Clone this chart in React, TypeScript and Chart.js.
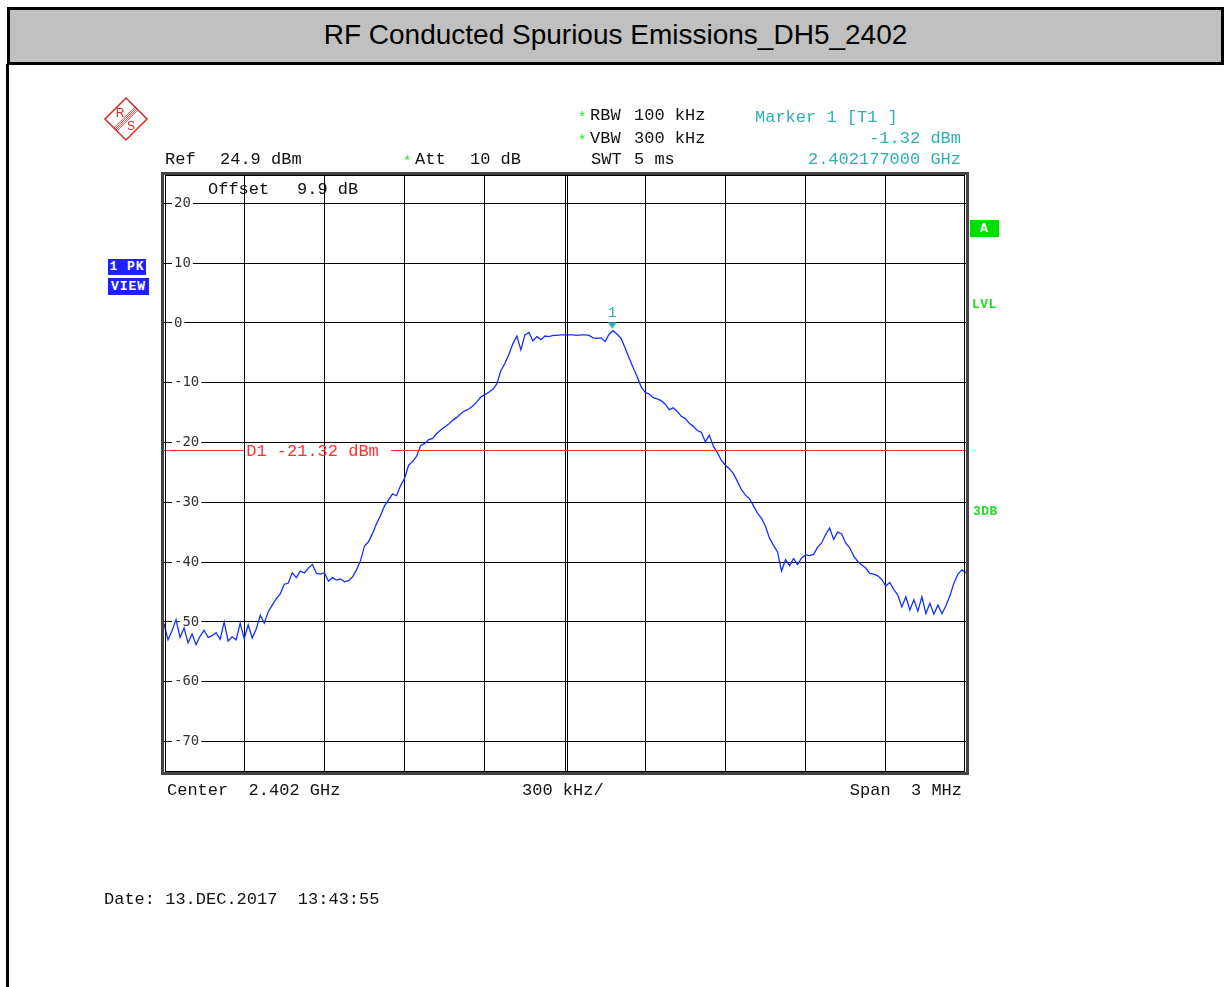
import React, { useEffect, useRef } from 'react';
import { Chart, registerables } from 'chart.js';

Chart.register(...registerables);

// ---- data ----
const TITLE = 'RF Conducted Spurious Emissions_DH5_2402';
const F_START_MHZ = 2400.5;
const F_STOP_MHZ = 2403.5;
const F_STEP_MHZ = 0.015;
const REF_LEVEL_DBM = 24.9;
const BOTTOM_LEVEL_DBM = -75.1;
const Y_TICKS = [20, 10, 0, -10, -20, -30, -40, -50, -60, -70];
const X_GRID_MHZ = [2400.5, 2400.8, 2401.1, 2401.4, 2401.7, 2402.0, 2402.3, 2402.6, 2402.9, 2403.2, 2403.5];
const CENTER_MHZ = 2402.0;
const D1_DBM = -21.32;
const D1_LABEL = 'D1 -21.32 dBm';
const MARKER_FREQ_MHZ = 2402.177;
const MARKER_DBM = -1.32;
const MARKER_LABEL = '1';

// trace levels (dBm), one every F_STEP_MHZ from F_START_MHZ
const TRACE_DBM = [
  -50.3, -53.0, -51.5, -49.6, -52.6, -51.0, -53.5, -52.0, -53.8, -52.4,
  -51.4, -52.6, -52.3, -51.8, -52.9, -50.0, -53.2, -52.5, -53.0, -50.2,
  -52.8, -50.5, -52.7, -51.2, -48.9, -50.2, -48.3, -47.2, -46.1, -45.3,
  -43.7, -43.5, -41.8, -42.6, -41.5, -41.8, -41.0, -40.4, -41.9, -42.0,
  -41.8, -43.2, -42.6, -43.0, -42.8, -43.3, -43.1, -42.5, -41.3, -39.8,
  -37.3, -36.6, -35.2, -33.6, -32.2, -30.6, -29.6, -28.6, -28.9, -27.2,
  -26.0, -23.8, -23.2, -22.3, -20.5, -20.2, -19.5, -19.3, -18.5, -17.9,
  -17.4, -16.9, -16.3, -15.8, -15.2, -14.7, -14.4, -13.9, -13.2, -12.4,
  -12.0, -11.6, -11.1, -10.2, -8.0, -6.8, -5.3, -3.5, -2.2, -4.5,
  -2.0, -1.6, -3.0, -2.3, -2.8, -2.2, -2.3, -2.1, -2.1, -2.0,
  -2.0, -2.0, -2.0, -2.1, -2.0, -2.0, -2.1, -2.5, -2.6, -2.5,
  -3.1, -1.9, -1.3, -1.9, -2.6, -4.2, -5.9, -7.5, -9.0, -10.7,
  -11.6, -11.9, -12.5, -12.7, -13.0, -13.6, -14.5, -14.2, -14.8, -15.6,
  -16.0, -16.8, -17.3, -18.0, -18.3, -19.9, -18.8, -20.6, -21.7, -23.0,
  -23.8, -24.4, -25.2, -26.5, -27.9, -28.8, -29.4, -30.6, -31.8, -32.7,
  -34.0, -36.0, -37.2, -38.3, -41.5, -39.6, -40.6, -39.4, -40.4, -39.3,
  -38.8, -38.9, -38.7, -37.5, -36.8, -35.4, -34.3, -36.2, -35.0, -35.3,
  -36.8, -37.6, -39.0, -39.9, -40.5, -41.0, -41.9, -42.0, -42.3, -42.9,
  -44.0, -43.4, -44.6, -45.5, -47.5, -45.8, -48.0, -46.3, -48.2, -45.8,
  -48.6, -46.9, -48.7, -47.2, -48.6, -47.3, -45.6, -43.5, -42.0, -41.3,
  -41.8,
];

// ---- styles ----
const W = 1224;
const H = 987;
const MONO = '"Liberation Mono", "Courier New", monospace';
const TRACE_COLOR = '#1430ff';
const TEAL = '#2fb0b0';
const RED = '#ff3030';
const GREEN = '#22dd22';
const BLUE_BOX = '#1f1fff';

const overlayPlugin = {
  id: 'overlay',
  afterDatasetsDraw(chart: any) {
    const { ctx, chartArea: a, scales } = chart;
    const x = scales.x;
    const y = scales.y;
    ctx.save();
    // second line of the doubled centre grid line
    const cx = Math.round(x.getPixelForValue(CENTER_MHZ)) + 2.5;
    ctx.strokeStyle = '#000';
    ctx.lineWidth = 1;
    ctx.beginPath();
    ctx.moveTo(cx, a.top);
    ctx.lineTo(cx, a.bottom);
    ctx.stroke();

    // D1 display line with label
    const yd = Math.round(y.getPixelForValue(D1_DBM)) + 0.5;
    ctx.font = '17px ' + MONO;
    const tx = x.getPixelForValue(X_GRID_MHZ[1]) + 2;
    const tw = ctx.measureText(D1_LABEL).width;
    ctx.strokeStyle = RED;
    ctx.beginPath();
    ctx.moveTo(a.left, yd);
    ctx.lineTo(tx - 2, yd);
    ctx.moveTo(tx + tw + 12, yd);
    ctx.lineTo(a.right, yd);
    ctx.stroke();
    ctx.fillStyle = RED;
    ctx.textBaseline = 'middle';
    ctx.textAlign = 'left';
    ctx.fillText(D1_LABEL, tx, yd + 1);

    // marker
    const mx = x.getPixelForValue(MARKER_FREQ_MHZ);
    const my = y.getPixelForValue(MARKER_DBM);
    ctx.fillStyle = TEAL;
    ctx.beginPath();
    ctx.moveTo(mx - 4.5, my - 8.5);
    ctx.lineTo(mx + 4.5, my - 8.5);
    ctx.lineTo(mx, my - 2);
    ctx.closePath();
    ctx.fill();
    ctx.font = '15px ' + MONO;
    ctx.textAlign = 'center';
    ctx.fillText(MARKER_LABEL, mx, my - 18);
    ctx.restore();
  },
  afterDraw(chart: any) {
    const { ctx, chartArea: a } = chart;
    ctx.save();
    ctx.strokeStyle = '#444';
    ctx.lineWidth = 3;
    ctx.strokeRect(a.left - 1.5, a.top - 0.5, a.right - a.left + 3, a.bottom - a.top + 2);
    ctx.strokeStyle = '#000';
    ctx.lineWidth = 1;
    ctx.strokeRect(a.left + 1.5, a.top + 1.5, a.right - a.left - 3, a.bottom - a.top - 2);
    ctx.restore();
  },
};

function T(props: any) {
  const { x, y, text, color = '#111', align = 'left', size = 17, bold = false, spacing = 0, font = MONO } = props;
  const style: any = {
    position: 'absolute',
    top: y - size * 0.44,
    fontFamily: font,
    fontSize: size,
    lineHeight: size + 'px',
    color,
    whiteSpace: 'pre',
    fontWeight: bold ? 'bold' : 'normal',
    letterSpacing: spacing,
  };
  if (align === 'right') style.right = W - x;
  else style.left = x;
  return <div style={style}>{text}</div>;
}

function Box(props: any) {
  const { x, y, w, h, bg, text, size = 13 } = props;
  return (
    <div
      style={{
        position: 'absolute',
        left: x,
        top: y,
        width: w,
        height: h,
        background: bg,
        color: '#fff',
        fontFamily: MONO,
        fontWeight: 'bold',
        fontSize: size,
        lineHeight: h + 'px',
        textAlign: 'center',
        whiteSpace: 'pre',
        letterSpacing: 1,
      }}
    >
      {text}
    </div>
  );
}

function Logo() {
  const c = { x: 126, y: 119 };
  const r = 21;
  const p1 = { x: 136.5, y: 108.5 };
  const p2 = { x: 115.5, y: 129.5 };
  const offs = [-2.2, -0.75, 0.75, 2.2];
  const k = Math.SQRT1_2;
  return (
    <svg width={60} height={60} viewBox="96 89 60 60" style={{ position: 'absolute', left: 96, top: 89 }}>
      <polygon
        points={`${c.x},${c.y - r} ${c.x + r},${c.y} ${c.x},${c.y + r} ${c.x - r},${c.y}`}
        fill="none"
        stroke="#d42a2a"
        strokeWidth={1.5}
      />
      {offs.map((o, i) => (
        <line key={i} x1={p1.x + o * k} y1={p1.y + o * k} x2={p2.x + o * k} y2={p2.y + o * k} stroke="#d42a2a" strokeWidth={0.8} />
      ))}
      <text x={120} y={116.5} fill="#d42a2a" fontFamily="Liberation Sans, Arial, sans-serif" fontSize={12} textAnchor="middle">R</text>
      <text x={131} y={130} fill="#d42a2a" fontFamily="Liberation Sans, Arial, sans-serif" fontSize={12} textAnchor="middle">S</text>
    </svg>
  );
}

export default function App() {
  const canvasRef = useRef<HTMLCanvasElement | null>(null);

  useEffect(() => {
    const canvas = canvasRef.current;
    if (!canvas) return;
    const points = TRACE_DBM.map((v, i) => ({ x: F_START_MHZ + i * F_STEP_MHZ, y: v }));
    const chart = new Chart(canvas, {
      type: 'line',
      data: {
        datasets: [
          {
            data: points,
            borderColor: TRACE_COLOR,
            borderWidth: 1.3,
            pointRadius: 0,
            tension: 0,
            fill: false,
          },
        ],
      },
      options: {
        animation: false,
        responsive: false,
        events: [],
        layout: { padding: { left: 164, top: 174, right: W - 966, bottom: H - 772 } },
        plugins: { legend: { display: false }, tooltip: { enabled: false }, title: { display: false } },
        scales: {
          x: {
            type: 'linear',
            min: F_START_MHZ,
            max: F_STOP_MHZ,
            afterBuildTicks: (s: any) => {
              s.ticks = X_GRID_MHZ.slice(1, -1).map((v) => ({ value: v }));
            },
            afterFit: (s: any) => {
              s.height = 0;
            },
            ticks: { display: false },
            grid: { color: '#000', lineWidth: 1, drawTicks: false },
            border: { display: false },
          },
          y: {
            type: 'linear',
            min: BOTTOM_LEVEL_DBM,
            max: REF_LEVEL_DBM,
            afterBuildTicks: (s: any) => {
              s.ticks = Y_TICKS.map((v) => ({ value: v }));
            },
            afterFit: (s: any) => {
              s.width = 0;
            },
            ticks: {
              mirror: true,
              padding: 10,
              color: '#333',
              font: { family: '"DejaVu Sans Mono", monospace', size: 14 },
              callback: (v: any) => String(v),
              showLabelBackdrop: true,
              backdropColor: '#ffffff',
              backdropPadding: { left: 2, right: 2, top: 0, bottom: 0 },
            },
            grid: { color: '#000', lineWidth: 1, drawTicks: false },
            border: { display: false },
          },
        },
      },
      plugins: [overlayPlugin],
    } as any);
    return () => chart.destroy();
  }, []);

  return (
    <div style={{ position: 'absolute', left: 0, top: 0, width: W, height: H, background: '#fff', overflow: 'hidden' }}>
      <div
        style={{
          position: 'absolute',
          left: 7,
          top: 7,
          width: W - 7,
          height: 58,
          boxSizing: 'border-box',
          border: '3px solid #000',
          background: '#c0c0c0',
          textAlign: 'center',
          fontFamily: '"Liberation Sans", Arial, sans-serif',
          fontSize: 28,
          lineHeight: '50px',
          color: '#000',
        }}
      >
        {TITLE}
      </div>
      <div style={{ position: 'absolute', left: 6, top: 64, width: 3, height: H - 64, background: '#000' }} />
      <canvas ref={canvasRef} width={W} height={H} style={{ position: 'absolute', left: 0, top: 0, width: W, height: H }} />
      <Logo />
      <T x={165} y={158} text="Ref" />
      <T x={220} y={158} text="24.9 dBm" />
      <T x={403} y={161} text="*" color={GREEN} size={14} />
      <T x={415} y={158} text="Att" />
      <T x={470} y={158} text="10 dB" />
      <T x={578} y={117} text="*" color={GREEN} size={14} />
      <T x={590} y={114} text="RBW" />
      <T x={634} y={114} text="100 kHz" />
      <T x={578} y={140} text="*" color={GREEN} size={14} />
      <T x={590} y={137} text="VBW" />
      <T x={634} y={137} text="300 kHz" />
      <T x={591} y={158} text="SWT" />
      <T x={634} y={158} text="5 ms" />
      <T x={755} y={116} text="Marker 1 [T1 ]" color={TEAL} />
      <T x={961} y={137} text="-1.32 dBm" color={TEAL} align="right" />
      <T x={961} y={158} text="2.402177000 GHz" color={TEAL} align="right" />
      <T x={208} y={188} text="Offset" />
      <T x={297} y={188} text="9.9 dB" />
      <T x={167} y={789} text="Center  2.402 GHz" />
      <T x={522} y={789} text="300 kHz/" />
      <T x={962} y={789} text="Span  3 MHz" align="right" />
      <T x={104} y={898} text="Date: 13.DEC.2017  13:43:55" />
      <Box x={108} y={259} w={38} h={16} bg={BLUE_BOX} text="1 PK" />
      <Box x={108} y={278} w={41} h={17} bg={BLUE_BOX} text="VIEW" />
      <Box x={970} y={220} w={29} h={17} bg="#00dd00" text="A" />
      <T x={972} y={304} text="LVL" color={GREEN} size={13} bold spacing={0.5} />
      <T x={973} y={511} text="3DB" color={GREEN} size={13} bold spacing={0.5} />
    </div>
  );
}
